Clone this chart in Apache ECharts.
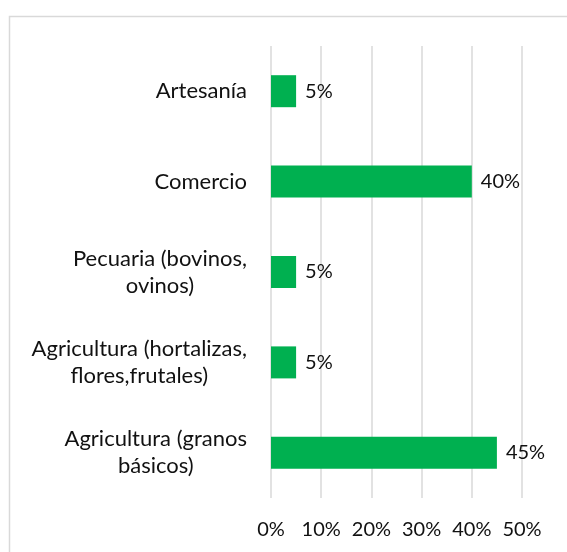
<!DOCTYPE html>
<html>
<head>
<meta charset="utf-8">
<style>
  html, body { margin: 0; padding: 0; background: #fff; }
  #chart { width: 567px; height: 552px; }
</style>
<script src="https://cdn.jsdelivr.net/npm/echarts@6/dist/echarts.min.js"></script>
</head>
<body>
<div id="chart"></div>
<script>
// Economic activity shares (percent)
const categories = [
  'Artesanía',
  'Comercio',
  'Pecuaria (bovinos,\novinos)',
  'Agricultura (hortalizas,\nflores,frutales)',
  'Agricultura (granos\nbásicos)'
];
const values = [5, 40, 5, 5, 45];
const xTicks = [0, 10, 20, 30, 40, 50];

const FONT = 'Lato';
const FS_CAT = 22;
const FS_NUM = 20;
const TEXT = '#111';

const chart = echarts.init(document.getElementById('chart'), null, { renderer: 'canvas' });

chart.setOption({
  backgroundColor: '#fff',
  animation: false,
  textStyle: { fontFamily: FONT },
  graphic: [{
    type: 'rect',
    silent: true,
    shape: { x: 9.5, y: 16.5, width: 700, height: 700 },
    style: { fill: 'none', stroke: '#d9d9d9', lineWidth: 1.5 }
  }],
  grid: { left: 271, right: 45, top: 46, bottom: 54, containLabel: false },
  xAxis: {
    type: 'value',
    min: xTicks[0],
    max: xTicks[xTicks.length - 1],
    interval: xTicks[1] - xTicks[0],
    axisLine: { show: false },
    axisTick: { show: false },
    splitLine: { show: true, lineStyle: { color: '#d9d9d9', width: 1.5 } },
    axisLabel: {
      formatter: '{value}%',
      color: TEXT,
      fontFamily: FONT,
      fontSize: FS_NUM,
      margin: 22
    }
  },
  yAxis: {
    type: 'category',
    data: categories,
    inverse: true,
    axisLine: { show: false },
    axisTick: { show: false },
    splitLine: { show: false },
    axisLabel: {
      margin: 24,
      color: TEXT,
      formatter: v => v.split('\n').map(l => '{c|' + l + '}').join('\n'),
      rich: {
        c: { align: 'center', fontFamily: FONT, fontSize: FS_CAT, lineHeight: 27, color: TEXT }
      }
    }
  },
  series: [{
    type: 'bar',
    data: values,
    barWidth: 32,
    itemStyle: { color: '#00B050' },
    label: {
      show: true,
      position: 'right',
      distance: 9,
      formatter: p => p.value + '%',
      color: TEXT,
      fontFamily: FONT,
      fontSize: FS_NUM
    }
  }]
});
</script>
</body>
</html>
